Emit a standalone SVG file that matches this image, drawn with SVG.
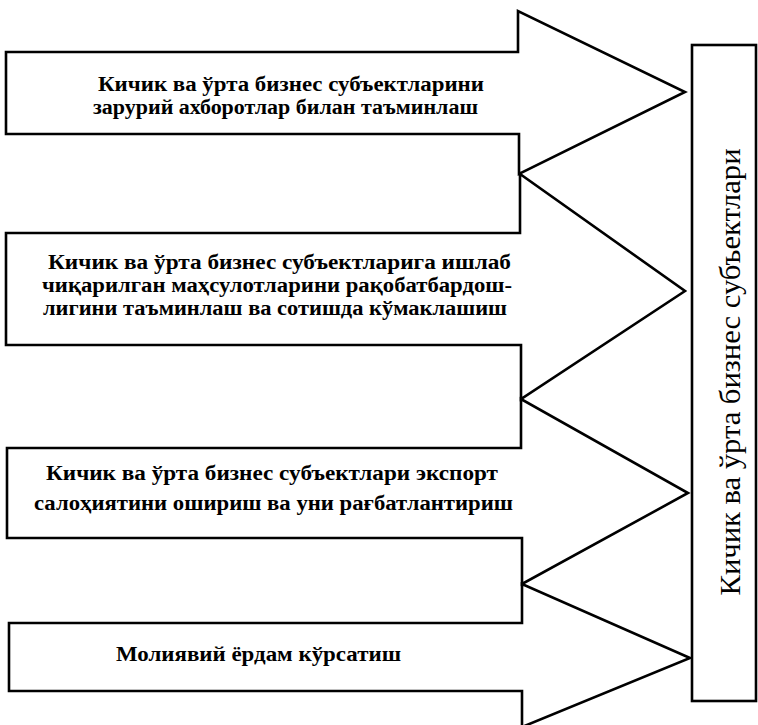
<svg xmlns="http://www.w3.org/2000/svg" width="758" height="725" viewBox="0 0 758 725">
<style>
.arrow{fill:#fff;stroke:#000;stroke-width:2.6;stroke-linejoin:miter}
.t{font-family:"Liberation Serif","Times New Roman",serif;font-size:20.5px;font-weight:bold;fill:#000}
.v{font-family:"Liberation Serif","Times New Roman",serif;font-size:29px;fill:#000}
</style>
<rect x="0" y="0" width="758" height="725" fill="#fff"/>
<g id="connectors">
<polygon id="arrow1" class="arrow" points="6,52 518,52 518,11 685,92 519,174 519,134 6,134"/>
<polygon id="arrow2" class="arrow" points="6,233 520,233 520,174 685,291 521,399 521,345 6,345"/>
<polygon id="arrow3" class="arrow" points="7,448 521,448 521,399 688,493 522,584 522,538 7,538"/>
<polygon id="arrow4" class="arrow" points="9,623 522,623 522,584 690,658 522,727 522,691 9,691"/>
</g>
<g id="node1">
<text class="t" x="98" y="91" textLength="386" lengthAdjust="spacingAndGlyphs">Кичик ва ўрта бизнес субъектларини</text>
<text class="t" x="93" y="114" textLength="385" lengthAdjust="spacingAndGlyphs">зарурий ахборотлар билан таъминлаш</text>
</g>
<g id="node2">
<text class="t" x="48" y="269" textLength="463" lengthAdjust="spacingAndGlyphs">Кичик ва ўрта бизнес субъектларига ишлаб</text>
<text class="t" x="42" y="292" textLength="470" lengthAdjust="spacingAndGlyphs">чиқарилган маҳсулотларини рақобатбардош-</text>
<text class="t" x="43" y="315" textLength="464" lengthAdjust="spacingAndGlyphs">лигини таъминлаш ва сотишда кўмаклашиш</text>
</g>
<g id="node3">
<text class="t" x="46" y="480" textLength="452" lengthAdjust="spacingAndGlyphs">Кичик ва ўрта бизнес субъектлари экспорт</text>
<text class="t" x="34" y="510" textLength="479" lengthAdjust="spacingAndGlyphs">салоҳиятини ошириш ва уни рағбатлантириш</text>
</g>
<g id="node4">
<text class="t" x="116" y="661" textLength="285" lengthAdjust="spacingAndGlyphs">Молиявий ёрдам кўрсатиш</text>
</g>
<g id="target">
<rect x="692" y="45" width="64" height="656" fill="#fff" stroke="#000" stroke-width="2.6"/>
<text class="v" transform="translate(740,372) rotate(-90)" x="0" y="0" text-anchor="middle" textLength="447" lengthAdjust="spacingAndGlyphs">Кичик ва ўрта бизнес субъектлари</text>
</g>
</svg>
